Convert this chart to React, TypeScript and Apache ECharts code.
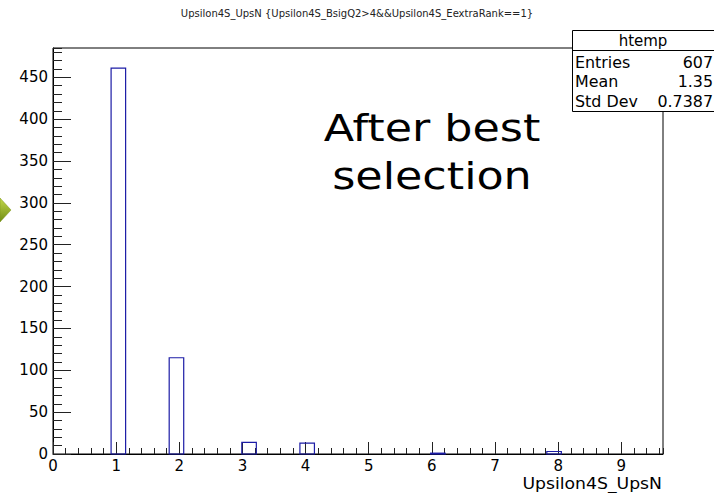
import React, { useEffect, useRef } from "react";
import * as echarts from "echarts";

// Histogram of Upsilon4S_UpsN (ROOT-style "htemp")
const binLow = [0.92, 1.84, 2.99, 3.91, 5.98, 7.82];
const binWidth = 0.23;
const counts = [461, 115, 14, 13, 1, 3];

const xTickLabels = ["0", "1", "2", "3", "4", "5", "6", "7", "8", "9"];
const yTickLabels = ["0", "50", "100", "150", "200", "250", "300", "350", "400", "450"];

const statNames = ["Entries", "Mean", "Std Dev"];
const statValues = ["607", "1.35", "0.7387"];

const titleText = "Upsilon4S_UpsN {Upsilon4S_BsigQ2>4&&Upsilon4S_EextraRank==1}";
const xTitle = "Upsilon4S_UpsN";
const noteLines = ["After best", "selection"];

const X_MAX = 9.66;
const Y_MAX = 485;
const ROOT_FONT = "DejaVu Sans";

export default function App() {
  const ref = useRef<HTMLDivElement>(null);

  useEffect(() => {
    if (!ref.current) return;
    const chart = echarts.init(ref.current, undefined, { renderer: "svg" });

    const data = binLow.map((lo, i) => [lo, lo + binWidth, counts[i]]);

    const gridBox = { left: 53, top: 48, right: 51, bottom: 39 };

    const statRows = statNames.flatMap((name, i) => [
      {
        type: "text",
        z: 101,
        x: 575,
        y: 63 + i * 19.5,
        scaleX: 1.06,
        style: {
          text: name,
          font: `15px "${ROOT_FONT}"`,
          fill: "#000",
          align: "left",
          verticalAlign: "middle",
        },
      },
      {
        type: "text",
        z: 101,
        x: 713,
        y: 63 + i * 19.5,
        scaleX: 1.06,
        style: {
          text: statValues[i],
          font: `15px "${ROOT_FONT}"`,
          fill: "#000",
          align: "right",
          verticalAlign: "middle",
        },
      },
    ]);

    chart.setOption({
      animation: false,
      backgroundColor: "#fff",
      grid: {
        ...gridBox,
        show: true,
        borderColor: "#000",
        borderWidth: 1,
        backgroundColor: "transparent",
      },
      xAxis: [
        {
          type: "value",
          min: 0,
          max: X_MAX,
          interval: 1,
          position: "bottom",
          splitLine: { show: false },
          axisLine: { show: true, onZero: false, lineStyle: { color: "#000", width: 1 } },
          axisTick: { show: true, inside: true, length: 12, lineStyle: { color: "#222" } },
          axisLabel: {
            show: true,
            showMaxLabel: false,
            margin: 4,
            fontFamily: ROOT_FONT,
            fontSize: 15,
            color: "#000",
            formatter: (v: number) => xTickLabels[Math.round(v)] ?? "",
          },
        },
        {
          type: "value",
          min: 0,
          max: X_MAX,
          interval: 0.2,
          position: "bottom",
          splitLine: { show: false },
          axisLine: { show: false },
          axisTick: { show: true, inside: true, length: 6, lineStyle: { color: "#222" } },
          axisLabel: { show: false },
        },
      ],
      yAxis: [
        {
          type: "value",
          min: 0,
          max: Y_MAX,
          interval: 50,
          position: "left",
          splitLine: { show: false },
          axisLine: { show: true, onZero: false, lineStyle: { color: "#000", width: 1 } },
          axisTick: { show: true, inside: true, length: 18, lineStyle: { color: "#222" } },
          axisLabel: {
            show: true,
            showMaxLabel: false,
            margin: 5,
            fontFamily: ROOT_FONT,
            fontSize: 15,
            color: "#000",
            formatter: (v: number) => yTickLabels[Math.round(v / 50)] ?? "",
          },
        },
        {
          type: "value",
          min: 0,
          max: Y_MAX,
          interval: 10,
          position: "left",
          splitLine: { show: false },
          axisLine: { show: false },
          axisTick: { show: true, inside: true, length: 9, lineStyle: { color: "#222" } },
          axisLabel: { show: false },
        },
      ],
      series: [
        {
          type: "custom",
          xAxisIndex: 0,
          yAxisIndex: 0,
          data,
          encode: { x: [0, 1], y: 2 },
          renderItem: (_params: any, api: any) => {
            const topLeft = api.coord([api.value(0), api.value(2)]);
            const bottomRight = api.coord([api.value(1), 0]);
            return {
              type: "rect",
              shape: {
                x: topLeft[0],
                y: topLeft[1],
                width: bottomRight[0] - topLeft[0],
                height: bottomRight[1] - topLeft[1],
              },
              style: { fill: "none", stroke: "#1c1ca6", lineWidth: 1.2 },
            };
          },
        },
      ],
      graphic: [
        {
          type: "text",
          x: 357,
          y: 13,
          style: {
            text: titleText,
            font: `10px "${ROOT_FONT}"`,
            fill: "#222",
            align: "center",
            verticalAlign: "middle",
          },
        },
        {
          type: "text",
          x: 662,
          y: 484,
          scaleX: 1.15,
          style: {
            text: xTitle,
            font: `15px "${ROOT_FONT}"`,
            fill: "#000",
            align: "right",
            verticalAlign: "middle",
          },
        },
        ...noteLines.map((line, i) => ({
          type: "text",
          x: 432,
          y: 128 + i * 48,
          scaleX: 1.2,
          style: {
            text: line,
            font: `37px "${ROOT_FONT}"`,
            fill: "#000",
            align: "center",
            verticalAlign: "middle",
          },
        })),
        {
          type: "rect",
          z: 100,
          shape: { x: 572.5, y: 30.5, width: 150, height: 81 },
          style: { fill: "#fff", stroke: "#000", lineWidth: 1 },
        },
        {
          type: "line",
          z: 101,
          shape: { x1: 572.5, y1: 50.5, x2: 714, y2: 50.5 },
          style: { stroke: "#000", lineWidth: 1 },
        },
        {
          type: "text",
          z: 101,
          x: 643,
          y: 41,
          style: {
            text: "htemp",
            font: `15px "${ROOT_FONT}"`,
            fill: "#000",
            align: "center",
            verticalAlign: "middle",
          },
        },
        ...statRows,
        {
          type: "polygon",
          z: 100,
          shape: { points: [[0, 198], [11, 210], [0, 222]] },
          style: {
            fill: new echarts.graphic.LinearGradient(0, 0, 0, 1, [
              { offset: 0, color: "#c3d84a" },
              { offset: 1, color: "#6f8c12" },
            ]),
            stroke: "#7a9418",
            lineWidth: 0.5,
          },
        },
      ],
    });

    return () => chart.dispose();
  }, []);

  return (
    <div
      ref={ref}
      style={{ position: "fixed", left: 0, top: 0, width: 714, height: 493 }}
    />
  );
}
